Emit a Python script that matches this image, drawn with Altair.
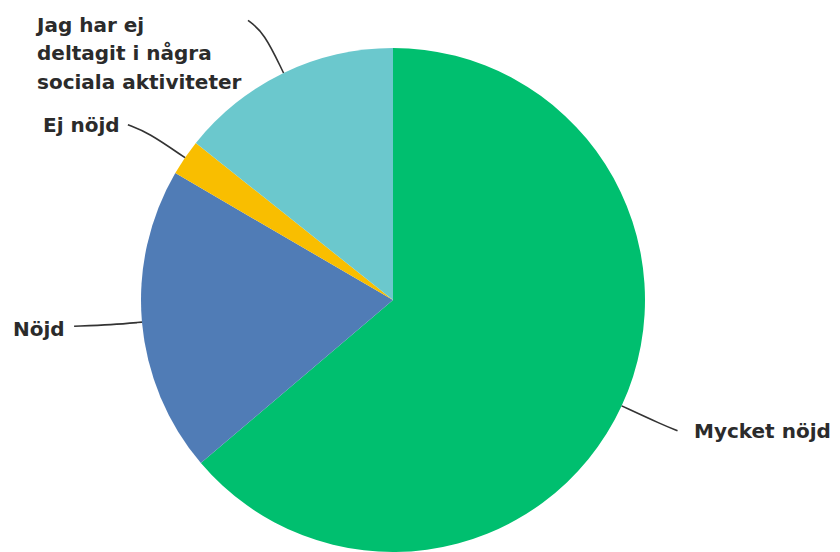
import numpy as np
import pandas as pd
import altair as alt

# ---- data ----
categories = ["Mycket nöjd", "Nöjd", "Ej nöjd",
              "Jag har ej deltagit i några sociala aktiviteter"]
label_text = ["Mycket nöjd", "Nöjd", "Ej nöjd",
              "Jag har ej\ndeltagit i några\nsociala aktiviteter"]
values = [63.8, 19.6, 2.3, 14.3]
colors = ["#00BF6F", "#507CB6", "#F9BE00", "#6BC8CD"]

# ---- layout (pixels, chart coordinates) ----
CX, CY, R = 385, 292, 252
elbow_ext = [45, 30, 45, 45]          # radial extension of leader elbow
end_dx = [15, -38, -20, -16]          # leader end offset from elbow
end_dy = [6, 1.5, -7.6, -12]
label_x = [686, 5, 35, 29]            # left edge of labels
label_base = [430, 328, 123.5, 23.5]  # first-line baseline
FONT_SIZE = 20
TOP_OFFSET = round(0.79 * FONT_SIZE)

pie_df = pd.DataFrame({"cat": categories, "val": values,
                       "ord": list(range(len(categories)))})

vals = np.array(values, dtype=float)
cum = np.cumsum(vals)
mid = (cum - vals / 2) / vals.sum() * 2 * np.pi

rows = []
for i, c in enumerate(categories):
    s, co = np.sin(mid[i]), np.cos(mid[i])
    p0 = (CX + R * s, CY - R * co)
    r1 = R + elbow_ext[i]
    p1 = (CX + r1 * s, CY - r1 * co)
    p2 = (p1[0] + end_dx[i], p1[1] + end_dy[i])
    for k, p in enumerate([p0, p1, p2]):
        rows.append({"cat": c, "step": k, "px": p[0], "py": p[1]})
lead_df = pd.DataFrame(rows)

lab_df = pd.DataFrame({"cat": categories, "txt": label_text,
                       "lx": label_x,
                       "ly": [b - TOP_OFFSET for b in label_base]})

color_scale = alt.Scale(domain=categories, range=colors)

pie = alt.Chart(pie_df).mark_arc(radius=R).encode(
    theta=alt.Theta("val:Q", stack=True),
    color=alt.Color("cat:N", scale=color_scale, legend=None),
    order=alt.Order("ord:Q"),
    x=alt.value(CX),
    y=alt.value(CY),
)

leaders = alt.Chart(lead_df).mark_line(
    interpolate="basis", color="#333333", strokeWidth=1.6
).encode(
    x=alt.X("px:Q", scale=None),
    y=alt.Y("py:Q", scale=None),
    detail="cat:N",
    order="step:Q",
)

labels = alt.Chart(lab_df).mark_text(
    align="left", baseline="top", lineBreak="\n", lineHeight=28.5,
    font="DejaVu Sans", fontWeight="bold", fontSize=FONT_SIZE,
    color="#2b2b2b",
).encode(
    x=alt.X("lx:Q", scale=None),
    y=alt.Y("ly:Q", scale=None),
    text="txt:N",
)

chart = alt.layer(pie, leaders, labels).properties(
    width=824, height=544, padding=0, autosize="none"
).configure_view(stroke=None)

chart.save("out.html", embed_options={"renderer": "svg", "actions": False})
